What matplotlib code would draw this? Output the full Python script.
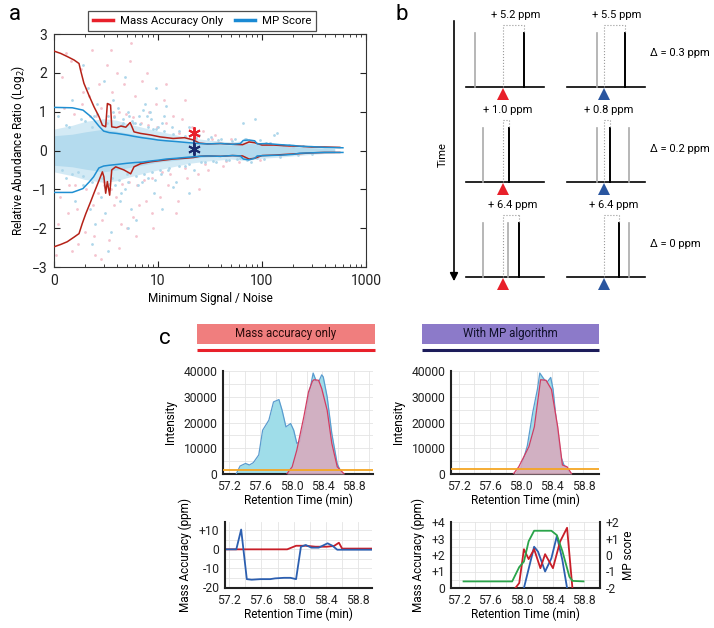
import numpy as np
import matplotlib
matplotlib.use('Agg')
import matplotlib.pyplot as plt
from matplotlib.patches import Rectangle
from matplotlib.lines import Line2D
from matplotlib.ticker import FixedLocator, MultipleLocator, NullFormatter

plt.rcParams['font.family'] = ['Roboto', 'DejaVu Sans']

# ---------------- panel a data ----------------
# envelope curves (signal/noise, log2 ratio)
red_up_sn = [1, 1.16, 1.34, 1.56, 1.74, 1.8, 1.94, 2.16, 2.42, 2.71, 2.92, 3.14, 3.26, 3.5, 3.59, 4.0, 4.4, 4.9, 5.4, 5.6, 5.88, 6.8, 8.5, 10.5, 14, 18, 22, 25, 30, 40, 52, 65, 75, 85, 100, 130, 170, 230, 300, 400, 560]
red_up = [2.56, 2.5, 2.42, 2.33, 2.24, 2.07, 1.73, 1.43, 1.13, 0.87, 0.65, 0.61, 1.21, 1.17, 0.61, 0.59, 0.63, 0.6, 0.72, 0.62, 0.48, 0.44, 0.4, 0.35, 0.31, 0.33, 0.27, 0.19, 0.17, 0.18, 0.16, 0.15, 0.22, 0.2, 0.14, 0.14, 0.12, 0.11, 0.09, 0.09, 0.08]
red_lo_sn = [1, 1.16, 1.34, 1.56, 1.74, 1.87, 2.02, 2.25, 2.42, 2.71, 2.92, 3.02, 3.14, 3.26, 3.43, 3.59, 3.92, 4.7, 5.46, 5.88, 6.8, 8.5, 10.5, 14, 18, 22, 25, 30, 40, 52, 65, 75, 85, 100, 130, 170, 230, 300, 400, 560]
red_lo = [-2.48, -2.42, -2.35, -2.23, -2.14, -1.88, -1.63, -1.32, -1.1, -0.77, -0.55, -0.68, -1.1, -0.8, -1.15, -0.5, -0.42, -0.5, -0.6, -0.42, -0.34, -0.29, -0.26, -0.22, -0.2, -0.18, -0.15, -0.14, -0.15, -0.13, -0.14, -0.22, -0.2, -0.13, -0.12, -0.1, -0.08, -0.06, -0.05, -0.05]
blue_sn = [1, 1.5, 1.9, 2.2, 2.4, 2.7, 3.0, 3.4, 4, 5, 6, 7, 8.5, 10, 12, 15, 20, 25, 30, 40, 52, 62, 66, 75, 85, 90, 110, 150, 200, 230, 300, 400, 600]
blue_up = [1.11, 1.1, 1.04, 0.9, 0.8, 0.63, 0.5, 0.46, 0.44, 0.4, 0.36, 0.33, 0.3, 0.27, 0.25, 0.23, 0.2, 0.18, 0.17, 0.18, 0.16, 0.18, 0.26, 0.27, 0.25, 0.17, 0.18, 0.15, 0.13, 0.11, 0.1, 0.08, 0.07]
blue_lo = [-1.08, -1.08, -0.98, -0.8, -0.68, -0.45, -0.4, -0.38, -0.36, -0.33, -0.31, -0.3, -0.27, -0.25, -0.22, -0.2, -0.17, -0.15, -0.14, -0.15, -0.13, -0.14, -0.22, -0.24, -0.2, -0.14, -0.13, -0.12, -0.1, -0.07, -0.06, -0.05, -0.05]
# dense core of the point cloud and its thinner halo
core_sn = [1, 1.5, 2, 3, 4, 5, 7, 10, 15, 20, 30, 50, 70, 100, 150, 200, 300, 500]
core_up = [0.38, 0.42, 0.48, 0.55, 0.5, 0.45, 0.38, 0.3, 0.25, 0.2, 0.17, 0.14, 0.2, 0.14, 0.12, 0.1, 0.07, 0.04]
core_lo = [-0.38, -0.42, -0.48, -0.55, -0.5, -0.45, -0.38, -0.3, -0.25, -0.2, -0.17, -0.14, -0.2, -0.14, -0.12, -0.1, -0.07, -0.04]
halo_up = [0.55, 0.65, 0.75, 0.82, 0.78, 0.7, 0.6, 0.5, 0.4, 0.33, 0.27, 0.22, 0.26, 0.2, 0.17, 0.14, 0.1, 0.06]
halo_lo = [-0.55, -0.65, -0.75, -0.82, -0.78, -0.7, -0.6, -0.5, -0.4, -0.33, -0.27, -0.22, -0.26, -0.2, -0.17, -0.14, -0.1, -0.06]
# outlying points (signal/noise, log2 ratio)
blue_pts = [(1.1, 0.9), (1.3, -0.7), (1.5, 1.3), (1.6, -1.3), (1.8, 0.8), (1.9, -0.9), (2.1, 1.6), (2.2, -1.5),
            (2.4, 0.9), (2.5, -1.9), (2.6, 1.2), (2.8, -1.2), (3.0, 1.8), (3.1, -1.6), (3.3, 0.9), (3.5, -2.1),
            (3.7, 1.3), (3.9, -0.9), (4.1, 1.1), (4.3, -1.3), (4.6, 0.8), (4.8, -1.0), (5.2, 1.0), (5.5, -1.5),
            (5.8, 0.7), (6.2, -1.8), (6.6, 0.9), (7.0, -0.8), (7.5, 1.2), (8.0, -0.7), (8.6, 0.8), (9.2, -1.1),
            (10, 0.6), (10.8, -0.6), (11.5, 0.9), (12.5, -0.5), (13.5, 0.6), (15, -0.8), (16, 0.5), (18, -0.4),
            (20, 0.6), (22, -0.5), (25, 0.4), (28, -0.3), (32, 0.35), (36, -0.3), (40, 0.3), (48, -0.25),
            (55, 0.3), (62, -0.2), (66, 0.72), (70, 0.3), (72, -0.25), (80, 0.25), (85, 0.8), (90, -0.2),
            (110, 0.2), (130, 0.4), (140, 0.45), (160, 0.15), (200, 0.1), (250, 0.12), (300, -0.1), (9.0, 0.55),
            (12, 1.15), (14, -0.95), (7.2, 1.05), (8.4, 1.0), (1.2, -0.5), (2.3, 0.6), (3.6, -0.7), (4.5, 0.65),
            (5.0, -0.6), (6.0, 0.7), (2.0, 0.75), (2.3, -0.8), (2.6, 0.95), (2.9, -0.7), (3.2, 0.72), (3.4, -0.85),
            (3.8, 0.85), (4.2, -0.75), (4.6, 0.7), (5.1, -0.8), (5.6, 0.75), (6.1, -0.65), (6.7, 0.68), (7.3, -0.6),
            (8.0, 0.6), (8.8, -0.55), (9.6, 0.55), (10.5, -0.5), (11.5, 0.5), (12.8, -0.45), (14, 0.42), (16, -0.4),
            (18, 0.38), (20, -0.35), (23, 0.33), (26, -0.3), (30, 0.3), (34, -0.28), (38, 0.27), (45, -0.24),
            (52, 0.25), (58, -0.22), (68, 0.3), (78, -0.3), (95, 0.28), (105, -0.22), (120, 0.2), (150, -0.18),
            (180, 0.15), (220, -0.12), (1.4, 0.6), (1.7, -0.55), (1.3, 0.65), (1.5, -0.6), (1.9, -0.65), (3.1, -0.95),
            (3.7, 1.0), (4.4, -1.1), (5.3, 0.9), (6.4, -0.9), (7.8, 0.9), (9.4, -0.75), (11, 0.7), (2.3, -2.4),
            (3.3, -2.6), (5.2, -2.0), (11, -1.5), (20, -1.1), (1.9, 2.2), (4.8, 1.9), (9.5, 1.6)]
pink_pts = [(1.05, -2.7), (1.2, 1.9), (1.35, -1.6), (1.45, 2.3), (1.7, -2.4), (1.9, 1.5), (2.0, -2.1), (2.3, 2.6),
            (2.5, -2.7), (2.7, 1.7), (2.9, -1.8), (3.2, 2.2), (3.4, -2.3), (3.6, 1.5), (3.8, -1.4), (4.0, 2.0),
            (4.4, -1.9), (4.7, 1.7), (5.0, -2.0), (5.4, 2.3), (5.7, -1.7), (6.0, 1.4), (6.5, -1.4), (7.0, 1.8),
            (7.6, -1.3), (8.2, 1.0), (8.8, -1.6), (9.5, 1.2), (10.5, -1.2), (11.5, 1.3), (12.5, -0.9), (14, 0.9),
            (15.5, -1.3), (17, 0.8), (19, -0.7), (21, 0.6), (24, -0.6), (27, 0.5), (30, -0.5), (35, 0.4),
            (42, -0.4), (50, 0.3), (60, -0.3), (75, 0.25), (95, -0.25), (120, 0.2), (150, -0.15), (180, 0.12),
            (2.8, -2.8), (1.3, 2.5), (5.5, 2.78), (1.6, -0.9), (2.2, 0.9), (3.0, -0.8), (1.15, -1.2), (1.25, 1.1),
            (1.4, -0.9), (1.55, 0.95), (1.65, -1.5), (1.85, 1.2), (2.05, -1.0), (2.15, 1.4), (2.35, -1.4), (2.55, 0.9),
            (2.65, -1.1), (2.85, 1.1), (3.05, -0.9), (3.3, 1.2), (3.5, -1.0), (3.75, 0.9), (3.95, -1.2), (4.2, 1.0),
            (4.5, -0.85), (4.9, 0.95), (5.3, -0.8), (5.8, 0.85), (6.3, -0.9), (6.8, 0.7), (7.4, -0.75), (8.0, 0.65),
            (8.7, -0.7), (9.8, 0.6), (11, -0.55), (12, 0.7), (13, -0.6), (16, 0.45), (18, -0.45), (23, 0.35),
            (28, -0.35), (33, 0.3), (45, -0.28), (2.4, -2.2), (1.8, 2.1), (3.5, 2.6), (4.2, -2.5), (6.2, -2.2),
            (7.8, 2.0), (9.0, -2.0), (12, 1.7), (15, -1.6), (18, 1.3), (25, -1.0), (1.1, -1.9), (1.5, -2.6)]
star_sn = 22
star_red = 0.45
star_blue = 0.03

# ---------------- panel b data ----------------
ppm_left = ['+ 5.2 ppm', '+ 1.0 ppm', '+ 6.4 ppm']
ppm_right = ['+ 5.5 ppm', '+ 0.8 ppm', '+ 6.4 ppm']
delta_labels = ['\u0394 = 0.3 ppm', '\u0394 = 0.2 ppm', '\u0394 = 0 ppm']
gray_left = [[-28], [-20], [-20, 5]]
black_left = [21, 6, 16]
gray_right = [[-7], [-7, 25], [25]]
black_right = [21, 6, 15]

# ---------------- panel c data ----------------
cyan_t = [57.29, 57.34, 57.41, 57.46, 57.51, 57.58, 57.63, 57.71, 57.77, 57.84, 57.88, 57.93, 57.99, 58.03, 58.07, 58.11, 58.18, 58.24, 58.28, 58.32, 58.35, 58.39, 58.41, 58.46, 58.52, 58.59, 58.65]
cyan_i = [0, 3100, 4100, 3500, 4400, 7400, 17000, 20900, 28000, 28900, 24800, 18300, 19600, 17000, 11900, 12500, 22000, 33000, 39200, 36000, 35700, 38500, 37700, 30000, 15700, 3900, 0]
pinkL_t = [57.94, 58.01, 58.07, 58.16, 58.22, 58.27, 58.29, 58.35, 58.39, 58.46, 58.52, 58.59, 58.68]
pinkL_i = [0, 2800, 9300, 22200, 31900, 36000, 36600, 36400, 33200, 24800, 11900, 2800, 0]
cyanR_t = [57.93, 58.0, 58.08, 58.15, 58.21, 58.24, 58.29, 58.33, 58.38, 58.41, 58.46, 58.51, 58.55, 58.6, 58.63]
cyanR_i = [0, 2500, 11000, 24000, 33000, 39200, 37000, 35500, 37500, 33000, 18000, 6700, 3500, 1500, 0]
pinkR_t = [57.9, 57.97, 58.1, 58.17, 58.25, 58.32, 58.39, 58.47, 58.53, 58.59, 58.65]
pinkR_i = [0, 2800, 10600, 18300, 36600, 36400, 32800, 18300, 3500, 2800, 0]
threshold_L = 1600
threshold_R = 1800

maL_t = [57.15, 57.29, 57.35, 57.42, 57.48, 57.59, 57.71, 57.77, 57.88, 57.96, 58.03, 58.09, 58.15, 58.22, 58.31, 58.42, 58.48, 58.54, 58.98]
maL_blue = [0, 0, 10.5, -15.8, -16.1, -15.8, -15.8, -15.4, -15.1, -15.1, -15.8, 1.4, 2.3, 0.9, 0.9, 3.2, 1.9, -0.2, -0.2]
maL_red_t = [57.15, 57.92, 58.03, 58.15, 58.27, 58.41, 58.5, 58.56, 58.6, 58.98]
maL_red = [0, 0, 1.9, 1.9, 1.4, 1.4, 1.8, 3.5, 0.4, 0.4]

maR_blue_t = [58.03, 58.16, 58.21, 58.3, 58.38, 58.45, 58.52, 58.58]
maR_blue = [0, 2.5, 2.2, 1.0, 1.8, 3.15, 1.7, 0]
maR_red_t = [57.905, 57.97, 58.03, 58.09, 58.16, 58.24, 58.3, 58.4, 58.49, 58.58, 58.65]
maR_red = [-0.1, 0.3, 2.35, 1.75, 2.35, 1.2, 2.05, 1.2, 2.8, 3.65, -0.1]
mp_t = [57.26, 57.88, 57.97, 58.03, 58.09, 58.16, 58.38, 58.45, 58.52, 58.61, 58.65, 58.79]
mp_score = [-1.6, -1.6, -0.73, -0.4, 0.83, 1.47, 1.47, 1.2, 0.24, -1.32, -1.57, -1.6]

W, H = 714, 628
fig = plt.figure(figsize=(W / 100, H / 100), dpi=100)

def fbox(x0, y0, x1, y1):
    return [x0 / W, 1 - y1 / H, (x1 - x0) / W, (y1 - y0) / H]

# overlay in pixel coordinates for the schematic parts
ov = fig.add_axes([0, 0, 1, 1])
ov.set_xlim(0, W)
ov.set_ylim(H, 0)
ov.axis('off')

# ======== panel a ========
ax = fig.add_axes(fbox(54, 34, 366, 267))
ax.set_xscale('log')
ax.fill_between(core_sn, halo_lo, halo_up, color='#d3eaf5', lw=0, zorder=1)
ax.fill_between(core_sn, core_lo, core_up, color='#b4dbee', lw=0, zorder=1)
px, py = zip(*pink_pts)
bx_, by_ = zip(*blue_pts)
ax.scatter(px, py, s=4, color='#f5c4ce', lw=0, zorder=2)
ax.scatter(bx_, by_, s=4, color='#aed7eb', lw=0, zorder=2)
ax.plot(red_up_sn, red_up, color='#b52218', lw=1.1, zorder=3)
ax.plot(red_lo_sn, red_lo, color='#b52218', lw=1.1, zorder=3)
ax.plot(blue_sn, blue_up, color='#1f8fd2', lw=1.1, zorder=4)
ax.plot(blue_sn, blue_lo, color='#1f8fd2', lw=1.1, zorder=4)
ax.plot([star_sn, star_sn], [-0.1, 0.3], color='#1c2a6b', lw=1.2, zorder=5)
ax.plot(star_sn, star_red, marker=(6, 2, 0), ms=9, mew=1.4, color='#e8202a', zorder=6)
ax.plot(star_sn, star_blue, marker=(6, 2, 0), ms=9, mew=1.4, color='#1c2a6b', zorder=6)
ax.set_xlim(1, 1000)
ax.set_ylim(-3, 3)
ax.set_xticks([1, 10, 100, 1000])
ax.set_xticklabels(['0', '10', '100', '1000'])
ax.xaxis.set_minor_formatter(NullFormatter())
ax.set_yticks([-3, -2, -1, 0, 1, 2, 3])
ax.set_yticklabels(['\u22123', '\u22122', '\u22121', '0', '1', '2', '3'])
ax.tick_params(which='both', direction='in', top=True, right=True, labelsize=10, colors='#222222', pad=5)
ax.tick_params(which='major', length=4)
ax.tick_params(which='minor', length=2)
for s in ax.spines.values():
    s.set_color('#333333')
    s.set_linewidth(0.8)
ax.set_xlabel('Minimum Signal / Noise', fontsize=8.5, labelpad=3)
ax.set_ylabel('Relative Abundance Ratio (Log$_2$)', fontsize=8.5, labelpad=3)
handles = [Line2D([], [], color='#e8202a', lw=2.5), Line2D([], [], color='#1a8ad4', lw=2.5)]
leg = ax.legend(handles, ['Mass Accuracy Only', 'MP Score'], loc='lower center', bbox_to_anchor=(0.475, 1.0),
                ncol=2, frameon=True, fancybox=False, fontsize=8.2, handlelength=1.8, columnspacing=1.0,
                borderpad=0.4, handletextpad=0.6, borderaxespad=0.3)
leg.get_frame().set_edgecolor('#222222')
leg.get_frame().set_linewidth(0.9)

ov.text(15, 15, 'a', fontsize=16, ha='center', va='center')
ov.text(402, 15, 'b', fontsize=16, ha='center', va='center')
ov.text(165, 338, 'c', fontsize=16, ha='center', va='center')

# ======== panel b ========
centers = [503, 604]
base_y = [87, 182, 277]
peak_h = 54
ov.annotate('', xy=(454, 284), xytext=(454, 18),
            arrowprops=dict(arrowstyle='-|>', color='black', lw=1.2, mutation_scale=12))
ov.text(443, 155, 'Time', rotation=90, fontsize=8, ha='center', va='center')
cols = [(ppm_left, gray_left, black_left, '#e8202a'), (ppm_right, gray_right, black_right, '#2a56a0')]
for ci, (ppms, grays, blacks, tri_c) in enumerate(cols):
    cx = centers[ci]
    for r in range(3):
        by = base_y[r]
        top = by - peak_h
        ov.plot([cx - 37, cx + 41], [by, by], color='black', lw=1.2)
        for g in grays[r]:
            ov.plot([cx + g, cx + g], [by, top], color='#aaaaaa', lw=1.2)
        bx = cx + blacks[r]
        ov.plot([bx, bx], [by, top], color='black', lw=1.4)
        ov.plot([cx, cx], [by, top - 8], color='#999999', lw=0.8, ls=':')
        ov.plot([cx, bx], [top - 8, top - 8], color='#999999', lw=0.8, ls=':')
        ov.plot([bx, bx], [top - 8, top], color='#999999', lw=0.8, ls=':')
        ov.plot(cx, by + 7, marker='^', ms=8, color=tri_c, mew=0)
        ov.text((cx + bx) / 2 + 2, top - 18, ppms[r], fontsize=8, ha='center', va='center')
for r in range(3):
    ov.text(650, [53, 149, 244][r], delta_labels[r], fontsize=8, ha='left', va='center')

# ======== panel c headers ========
ov.add_patch(Rectangle((197, 324), 178, 20, color='#f07e7e', lw=0))
ov.plot([197, 375], [349.5, 349.5], color='#e8202a', lw=2.2, solid_capstyle='butt')
ov.text(286, 334, 'Mass accuracy only', fontsize=8.3, ha='center', va='center', color='#2a0a0a')
ov.add_patch(Rectangle((422, 324), 177, 20, color='#8c7ac9', lw=0))
ov.plot([422, 599], [349.5, 349.5], color='#1c1c5a', lw=2.2, solid_capstyle='butt')
ov.text(510, 334, 'With MP algorithm', fontsize=8.3, ha='center', va='center', color='#10102a')


def style_c(a):
    for k in ['top', 'right']:
        a.spines[k].set_visible(False)
    for k in ['left', 'bottom']:
        a.spines[k].set_linewidth(1.5)
        a.spines[k].set_color('#222222')
    a.tick_params(which='both', length=0, labelsize=8.7, pad=4, colors='#222222')
    a.xaxis.set_major_locator(FixedLocator([57.2, 57.6, 58.0, 58.4, 58.8]))
    a.xaxis.set_minor_locator(MultipleLocator(0.2))
    a.set_xticklabels(['57.2', '57.6', '58.0', '58.4', '58.8'])
    a.grid(True, which='both', color='#e4e4e4', lw=0.6)
    a.set_axisbelow(True)


def intensity_panel(pos, ct, ci, pt, pi, thr, xl):
    a = fig.add_axes(fbox(*pos))
    a.fill_between(ct, ci, color='#9fdde9', lw=0, zorder=2)
    a.plot(ct, ci, color='#5a9ccf', lw=0.9, zorder=3)
    a.fill_between(pt, pi, color='#d9aabd', alpha=0.88, lw=0, zorder=4)
    a.plot(pt, pi, color='#d23c62', lw=0.9, zorder=5)
    a.axhline(thr, color='#f5a623', lw=1.3, zorder=6)
    a.set_xlim(*xl)
    a.set_ylim(0, 40000)
    a.set_yticks([0, 10000, 20000, 30000, 40000])
    a.yaxis.set_minor_locator(MultipleLocator(5000))
    style_c(a)
    a.set_ylabel('Intensity', fontsize=8.5, labelpad=5)
    a.set_xlabel('Retention Time (min)', fontsize=8.5, labelpad=1)
    return a

intensity_panel((223, 371, 373, 474), cyan_t, cyan_i, pinkL_t, pinkL_i, threshold_L, (57.12, 59.05))
intensity_panel((451, 371, 599, 474), cyanR_t, cyanR_i, pinkR_t, pinkR_i, threshold_R, (57.1, 59.0))

# bottom-left mass accuracy
b1 = fig.add_axes(fbox(225, 522, 372, 588))
b1.plot(maL_red_t, maL_red, color='#c81e28', lw=1.3)
b1.plot(maL_t, maL_blue, color='#2c5fb0', lw=1.3)
b1.set_xlim(57.15, 58.97)
b1.set_ylim(-20.5, 14.5)
b1.set_yticks([10, 0, -10, -20])
b1.set_yticklabels(['+10', '0', '-10', '-20'])
b1.yaxis.set_minor_locator(MultipleLocator(5))
style_c(b1)
b1.set_ylabel('Mass Accuracy (ppm)', fontsize=8.5, labelpad=5)
b1.set_xlabel('Retention Time (min)', fontsize=8.5, labelpad=1)

# bottom-right mass accuracy + MP score
b2 = fig.add_axes(fbox(451, 522, 600, 588))
b2.plot(maR_blue_t, maR_blue, color='#2c5fb0', lw=1.3, zorder=3)
b2.plot(maR_red_t, maR_red, color='#c81e28', lw=1.3, zorder=4)
b2.set_xlim(57.1, 59.0)
b2.set_ylim(0, 4)
b2.set_yticks([0, 1, 2, 3, 4])
b2.set_yticklabels(['0', '+1', '+2', '+3', '+4'])
b2.yaxis.set_minor_locator(MultipleLocator(0.5))
style_c(b2)
b2.set_ylabel('Mass Accuracy (ppm)', fontsize=8.5, labelpad=5)
b2.set_xlabel('Retention Time (min)', fontsize=8.5, labelpad=1)
b3 = b2.twinx()
b3.plot(mp_t, mp_score, color='#2aa44a', lw=1.3, zorder=2)
b3.set_ylim(-2, 2)
b3.set_yticks([-2, -1, 0, 1, 2])
b3.set_yticklabels(['-2', '-1', '0', '+1', '+2'])
for k in ['top', 'left', 'bottom']:
    b3.spines[k].set_visible(False)
b3.spines['right'].set_linewidth(1.5)
b3.spines['right'].set_color('#222222')
b3.tick_params(length=0, labelsize=8.7, pad=4, colors='#222222')
b3.set_ylabel('MP score', fontsize=8.5, labelpad=2)

fig.savefig('out.png', dpi=100)
